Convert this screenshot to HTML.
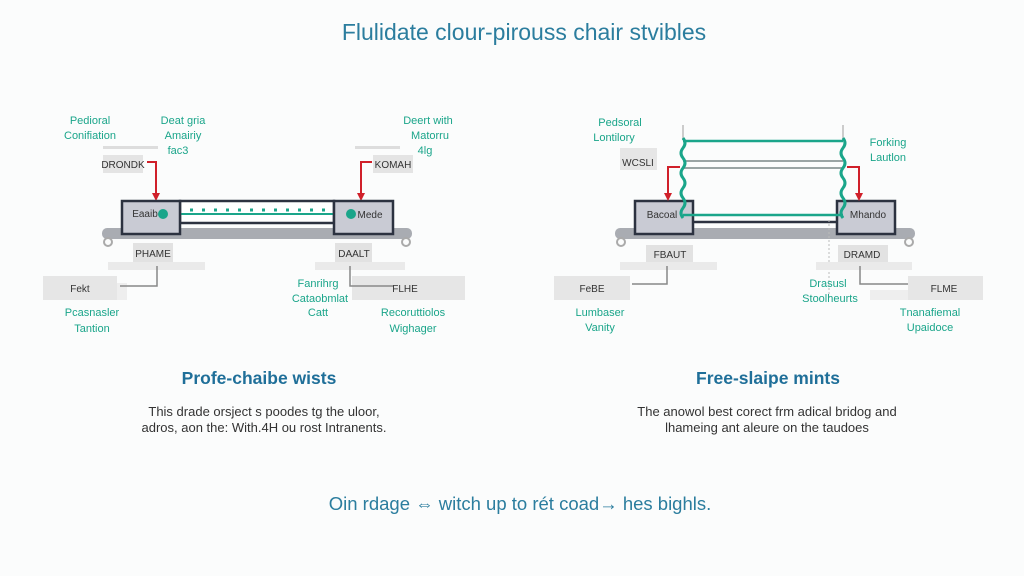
<!DOCTYPE html>
<html><head><meta charset="utf-8"><style>
html,body{margin:0;padding:0;background:#fbfcfc;}
svg{display:block;font-family:"Liberation Sans",sans-serif;}
.g{fill:#1aa58a;font-size:11px;text-anchor:middle;}
.b{fill:#333;font-size:10px;text-anchor:middle;}
</style></head><body>
<svg width="1024" height="576" viewBox="0 0 1024 576">
<rect width="1024" height="576" fill="#fbfcfc"/>
<text x="524" y="40" text-anchor="middle" font-size="23" fill="#2b7d9e">Flulidate clour-pirouss chair stvibles</text>

<!-- LEFT DIAGRAM -->
<g>
<text class="g" x="90" y="124">Pedioral</text><text class="g" x="90" y="139">Conifiation</text>
<text class="g" x="183" y="124">Deat gria</text><text class="g" x="183" y="139">Amairiy</text><text class="g" x="178" y="154">fac3</text>
<text class="g" x="428" y="124">Deert with</text><text class="g" x="430" y="139">Matorru</text><text class="g" x="425" y="154">4lg</text>
<rect x="103" y="146" width="55" height="3" fill="#ddd"/>
<rect x="103" y="155" width="40" height="18" fill="#e4e4e4"/>
<text class="b" x="123" y="168" font-size="9">DRONDK</text>
<rect x="355" y="146" width="45" height="3" fill="#ddd"/>
<rect x="373" y="155" width="40" height="18" fill="#e4e4e4"/>
<text class="b" x="393" y="168" font-size="9">KOMAH</text>
<path d="M147 162H156V198" stroke="#d0202a" stroke-width="2" fill="none"/>
<path d="M152 193L156 201L160 193Z" fill="#d0202a"/>
<path d="M372 162H361V198" stroke="#d0202a" stroke-width="2" fill="none"/>
<path d="M357 193L361 201L365 193Z" fill="#d0202a"/>
<rect x="102" y="228" width="310" height="11" rx="5" fill="#a9acb2"/>
<circle cx="108" cy="242" r="4" fill="none" stroke="#aaa" stroke-width="2"/>
<circle cx="406" cy="242" r="4" fill="none" stroke="#aaa" stroke-width="2"/>
<rect x="180" y="201" width="154" height="22" fill="#fff" stroke="#2c3240" stroke-width="2.5"/>
<line x1="180" y1="214" x2="334" y2="214" stroke="#1aa58a" stroke-width="2"/>
<line x1="190" y1="210" x2="325" y2="210" stroke="#1aa58a" stroke-width="3" stroke-dasharray="3 9"/>
<rect x="122" y="201" width="58" height="33" fill="#c9cbd4" stroke="#2c3240" stroke-width="2.5"/>
<text class="b" x="145" y="217" font-size="9">Eaaib</text>
<circle cx="163" cy="214" r="5" fill="#1aa58a"/>
<rect x="334" y="201" width="59" height="33" fill="#c9cbd4" stroke="#2c3240" stroke-width="2.5"/>
<text class="b" x="370" y="218" font-size="9">Mede</text>
<circle cx="351" cy="214" r="5" fill="#1aa58a"/>
<rect x="133" y="243" width="40" height="19" fill="#e2e2e2"/>
<text class="b" x="153" y="257" font-size="10">PHAME</text>
<rect x="108" y="262" width="97" height="8" fill="#eaeaea"/>
<rect x="43" y="276" width="74" height="24" fill="#e6e6e6"/>
<rect x="117" y="283" width="10" height="17" fill="#eee"/>
<text class="b" x="80" y="292" font-size="11">Fekt</text>
<path d="M157 266V286H120" stroke="#888" stroke-width="1.5" fill="none"/>
<rect x="335" y="243" width="37" height="19" fill="#e2e2e2"/>
<text class="b" x="354" y="257" font-size="10">DAALT</text>
<rect x="315" y="262" width="90" height="8" fill="#eaeaea"/>
<rect x="352" y="276" width="113" height="24" fill="#e6e6e6"/>
<text class="b" x="405" y="292" font-size="11">FLHE</text>
<path d="M350 266V286H393" stroke="#888" stroke-width="1.5" fill="none"/>
<text class="g" x="318" y="287">Fanrihrg</text><text class="g" x="320" y="302">Cataobmlat</text><text class="g" x="318" y="316">Catt</text>
<text class="g" x="92" y="316">Pcasnasler</text><text class="g" x="92" y="332">Tantion</text>
<text class="g" x="413" y="316">Recoruttiolos</text><text class="g" x="413" y="332">Wighager</text>
</g>

<!-- RIGHT DIAGRAM -->
<g>
<text class="g" x="620" y="126">Pedsoral</text><text class="g" x="614" y="141">Lontilory</text>
<text class="g" x="888" y="146">Forking</text><text class="g" x="888" y="161">Lautlon</text>
<rect x="620" y="148" width="37" height="22" fill="#e6e6e6"/>
<text class="b" x="638" y="166" font-size="9">WCSLI</text>
<line x1="683" y1="125" x2="683" y2="140" stroke="#ccc" stroke-width="2"/>
<line x1="843" y1="125" x2="843" y2="140" stroke="#ccc" stroke-width="2"/>
<rect x="615" y="228" width="300" height="11" rx="5" fill="#a9acb2"/>
<circle cx="621" cy="242" r="4" fill="none" stroke="#aaa" stroke-width="2"/>
<circle cx="909" cy="242" r="4" fill="none" stroke="#aaa" stroke-width="2"/>
<line x1="683" y1="161" x2="843" y2="161" stroke="#9aa4a4" stroke-width="2"/>
<line x1="683" y1="168" x2="843" y2="168" stroke="#9aa4a4" stroke-width="2"/>
<line x1="683" y1="141" x2="843" y2="141" stroke="#1aa58a" stroke-width="2.5"/>
<line x1="683" y1="222" x2="843" y2="222" stroke="#2c3240" stroke-width="2.5"/>
<rect x="635" y="201" width="58" height="33" fill="#c9cbd4" stroke="#2c3240" stroke-width="2.5"/>
<text class="b" x="662" y="218" font-size="9">Bacoal</text>
<rect x="837" y="201" width="58" height="33" fill="#c9cbd4" stroke="#2c3240" stroke-width="2.5"/>
<text class="b" x="868" y="218" font-size="9">Mhando</text>
<line x1="683" y1="215" x2="843" y2="215" stroke="#1aa58a" stroke-width="2.5"/>
<path d="M683 138 q4 5 0 10 q-4 5 0 10 q4 5 0 10 q-4 5 0 10 q4 5 0 10 q-4 5 0 10 q4 5 0 10 q-4 5 0 10" stroke="#1aa58a" stroke-width="3" fill="none"/>
<path d="M843 138 q4 5 0 10 q-4 5 0 10 q4 5 0 10 q-4 5 0 10 q4 5 0 10 q-4 5 0 10 q4 5 0 10 q-4 5 0 10" stroke="#1aa58a" stroke-width="3" fill="none"/>
<line x1="829" y1="220" x2="829" y2="298" stroke="#bbb" stroke-width="1" stroke-dasharray="2 2"/>
<path d="M680 167H668V198" stroke="#d0202a" stroke-width="2" fill="none"/>
<path d="M664 193L668 201L672 193Z" fill="#d0202a"/>
<path d="M847 167H859V198" stroke="#d0202a" stroke-width="2" fill="none"/>
<path d="M855 193L859 201L863 193Z" fill="#d0202a"/>
<rect x="646" y="245" width="47" height="17" fill="#e2e2e2"/>
<text class="b" x="670" y="258" font-size="10">FBAUT</text>
<rect x="620" y="262" width="97" height="8" fill="#eaeaea"/>
<rect x="554" y="276" width="76" height="24" fill="#e6e6e6"/>
<text class="b" x="592" y="292" font-size="11">FeBE</text>
<path d="M667 266V284H632" stroke="#888" stroke-width="1.5" fill="none"/>
<rect x="838" y="245" width="50" height="17" fill="#e2e2e2"/>
<text class="b" x="862" y="258" font-size="10">DRAMD</text>
<rect x="816" y="262" width="96" height="8" fill="#eaeaea"/>
<rect x="870" y="290" width="40" height="10" fill="#eee"/>
<rect x="908" y="276" width="75" height="24" fill="#e6e6e6"/>
<text class="b" x="944" y="292" font-size="11">FLME</text>
<path d="M860 266V284H908" stroke="#888" stroke-width="1.5" fill="none"/>
<text class="g" x="828" y="287">Drasusl</text><text class="g" x="830" y="302">Stoolheurts</text>
<text class="g" x="600" y="316">Lumbaser</text><text class="g" x="600" y="331">Vanity</text>
<text class="g" x="930" y="316">Tnanafiemal</text><text class="g" x="930" y="331">Upaidoce</text>
</g>

<text x="259" y="384" text-anchor="middle" font-size="17.5" font-weight="bold" fill="#1f6f99">Profe-chaibe wists</text>
<text x="264" y="416" text-anchor="middle" font-size="13" fill="#333">This drade orsject s poodes tg the uloor,</text>
<text x="264" y="432" text-anchor="middle" font-size="13" fill="#333">adros, aon the: With.4H ou rost Intranents.</text>
<text x="768" y="384" text-anchor="middle" font-size="17.5" font-weight="bold" fill="#1f6f99">Free-slaipe mints</text>
<text x="767" y="416" text-anchor="middle" font-size="13" fill="#333">The anowol best corect frm adical bridog and</text>
<text x="767" y="432" text-anchor="middle" font-size="13" fill="#333">lhameing ant aleure on the taudoes</text>
<text x="520" y="510" text-anchor="middle" font-size="18.5" fill="#2b7d9e">Oin rdage ⇔ witch up to rét coad→ hes bighls.</text>
</svg>
</body></html>
